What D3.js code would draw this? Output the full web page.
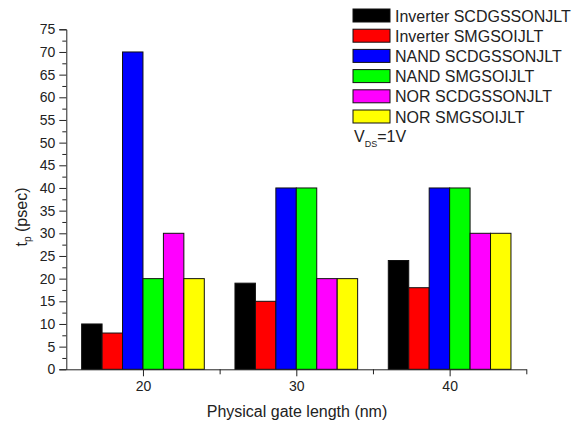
<!DOCTYPE html>
<html>
<head>
<meta charset="utf-8">
<script src="https://cdn.jsdelivr.net/npm/d3@7"></script>
<style>
  body { margin: 0; background: #fff; }
  svg { font-family: "Liberation Sans", Arial, sans-serif; }
</style>
</head>
<body>
<svg id="chart"></svg>
<script>
const width = 585;
const height = 424;

// data
const gateLengths = [20, 30, 40];
const seriesNames = [
  "Inverter SCDGSSONJLT",
  "Inverter SMGSOIJLT",
  "NAND SCDGSSONJLT",
  "NAND SMGSOIJLT",
  "NOR SCDGSSONJLT",
  "NOR SMGSOIJLT",
];
const seriesColors = ["#000000", "#ff0000", "#0000ff", "#00ff00", "#ff00ff", "#ffff00"];
const invSCDG = [10, 19, 24];
const invSMG = [8, 15, 18];
const nandSCDG = [70, 40, 40];
const nandSMG = [20, 40, 40];
const norSCDG = [30, 20, 30];
const norSMG = [20, 20, 30];
const seriesValues = [invSCDG, invSMG, nandSCDG, nandSMG, norSCDG, norSMG];
const yTicks = d3.range(0, 80, 5);

const x = d3.scaleLinear().domain([15, 45]).range([66.3, 526.3]);
const y = d3.scaleLinear().domain([0, 75]).range([369.3, 29.3]);

const groupWidth = 8; // in x units
const barW = groupWidth / seriesNames.length;

const svg = d3.select("#chart").attr("width", width).attr("height", height);

// bars
const rows = [];
seriesValues.forEach((vals, s) => {
  vals.forEach((v, i) => rows.push({ s: s, g: gateLengths[i], v: v }));
});

svg
  .append("g")
  .selectAll("rect")
  .data(rows)
  .enter()
  .append("rect")
  .attr("x", (d) => x(d.g - groupWidth / 2 + d.s * barW))
  .attr("width", (d) => x(barW) - x(0))
  .attr("y", (d) => y(d.v))
  .attr("height", (d) => y(0) - y(d.v))
  .attr("fill", (d) => seriesColors[d.s])
  .attr("stroke", "#111")
  .attr("stroke-width", 1);

// y axis
svg
  .append("g")
  .attr("transform", "translate(" + x(15) + ",0)")
  .call(d3.axisLeft(y).tickValues(yTicks).tickSize(7).tickPadding(4));
svg
  .append("g")
  .attr("transform", "translate(" + x(15) + ",0)")
  .call(
    d3.axisLeft(y).tickValues(d3.range(2.5, 75, 5)).tickSize(4).tickFormat("")
  )
  .select(".domain")
  .remove();

// x axis
svg
  .append("g")
  .attr("transform", "translate(0," + y(0) + ")")
  .call(d3.axisBottom(x).tickValues(gateLengths).tickSize(7).tickPadding(5).tickSizeOuter(0));
svg
  .append("g")
  .attr("transform", "translate(0," + y(0) + ")")
  .call(d3.axisBottom(x).tickValues([25, 35, 45]).tickSize(5).tickFormat(""))
  .select(".domain")
  .remove();

svg.selectAll(".tick text").attr("font-size", 14).attr("fill", "#222")
  .attr("font-family", "Liberation Sans, Arial, sans-serif");
svg.selectAll(".domain, .tick line").attr("stroke", "#222");

// axis titles
svg
  .append("text")
  .attr("x", 297)
  .attr("y", 417)
  .attr("text-anchor", "middle")
  .attr("font-size", 16)
  .attr("fill", "#222")
  .text("Physical gate length (nm)");

const yTitle = svg
  .append("text")
  .attr("transform", "translate(27,217) rotate(-90)")
  .attr("text-anchor", "middle")
  .attr("font-size", 16)
  .attr("fill", "#222");
yTitle.append("tspan").text("t");
yTitle.append("tspan").attr("font-size", 10).attr("dy", 4).text("p");
yTitle.append("tspan").attr("dy", -4).text(" (psec)");

// legend
const legend = svg
  .append("g")
  .attr("transform", "translate(353,9)")
  .selectAll("g")
  .data(seriesNames)
  .enter()
  .append("g")
  .attr("transform", (d, i) => "translate(0," + i * 20.2 + ")");

legend
  .append("rect")
  .attr("width", 37)
  .attr("height", 13)
  .attr("fill", (d, i) => seriesColors[i])
  .attr("stroke", "#111");

legend
  .append("text")
  .attr("x", 42)
  .attr("y", 12.5)
  .attr("font-size", 16)
  .attr("fill", "#222")
  .text((d) => d);

const vds = svg
  .append("text")
  .attr("x", 354)
  .attr("y", 142)
  .attr("font-size", 16)
  .attr("fill", "#222");
vds.append("tspan").text("V");
vds.append("tspan").attr("font-size", 9).attr("dy", 5).text("DS");
vds.append("tspan").attr("dy", -5).text("=1V");
</script>
</body>
</html>
